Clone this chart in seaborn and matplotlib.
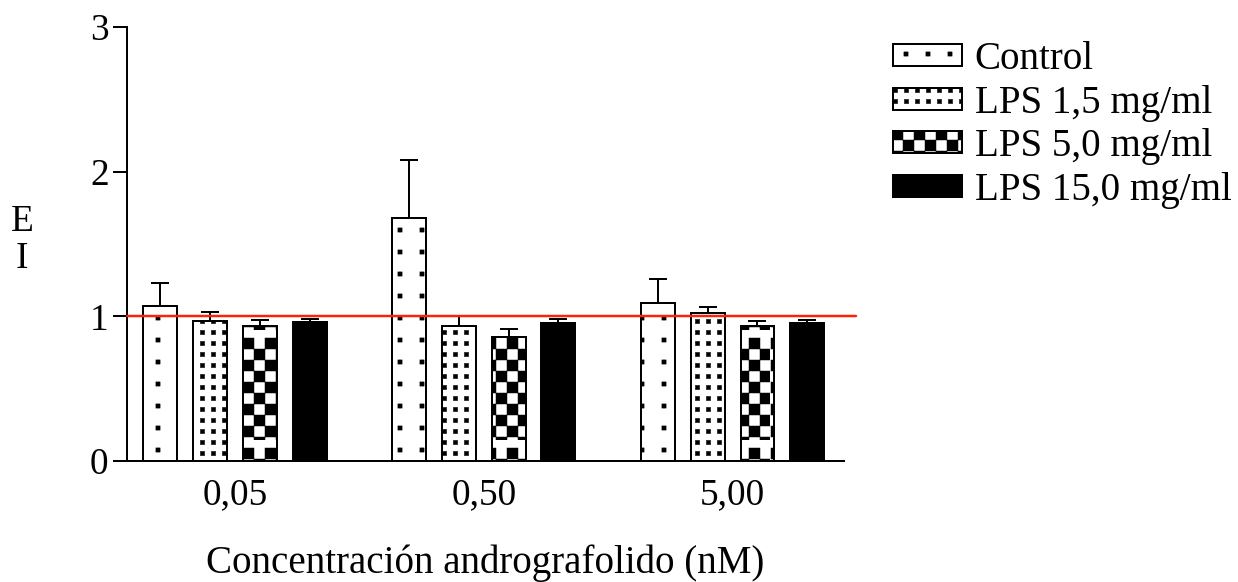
import matplotlib
matplotlib.use('Agg')
import matplotlib.pyplot as plt
import matplotlib.hatch as mhatch
from matplotlib.path import Path
import pandas as pd
import seaborn as sns

# values
concentrations = ['0,05', '0,50', '5,00']
groups = ['Control', 'LPS 1,5 mg/ml', 'LPS 5,0 mg/ml', 'LPS 15,0 mg/ml']
control = [1.07, 1.68, 1.09]
lps_1_5 = [0.97, 0.935, 1.02]
lps_5_0 = [0.935, 0.855, 0.935]
lps_15_0 = [0.958, 0.952, 0.956]
control_err = [0.16, 0.40, 0.165]
lps_1_5_err = [0.058, 0.07, 0.046]
lps_5_0_err = [0.042, 0.057, 0.033]
lps_15_0_err = [0.023, 0.03, 0.02]
reference = 1.0

DPI = 110
W, H = 1238, 582

# square-dot and checkerboard fills, sizes in pixels (one hatch tile = DPI px)
HATCH_SPECS = {
    '.': (22, 4.2, 4.0, 10.0, False),
    'o': (11, 4.2, 4.5, 2.5, False),
    'x': (11, 11.0, 6.5, 13.5, True),
}


class BlockHatch(mhatch.HatchPatternBase):
    def __init__(self, hatch, density):
        self.squares = []
        for ch, (period, size, cx, cy, checker) in HATCH_SPECS.items():
            if ch not in hatch:
                continue
            n = DPI // period
            s = size / DPI
            for i in range(n):
                for j in range(n):
                    if checker and (i + j) % 2:
                        continue
                    x = (cx + i * period) / DPI
                    y = 1 - (cy + j * period) / DPI
                    self.squares.append((x - s / 2, y - s / 2, s))
        self.num_vertices = 5 * len(self.squares)

    def set_vertices_and_codes(self, vertices, codes):
        for k, (x, y, s) in enumerate(self.squares):
            vertices[5 * k:5 * k + 5] = [(x, y), (x + s, y), (x + s, y + s), (x, y + s), (x, y)]
            codes[5 * k:5 * k + 5] = [Path.MOVETO, Path.LINETO, Path.LINETO,
                                      Path.LINETO, Path.CLOSEPOLY]


mhatch._hatch_types = [BlockHatch]

df = pd.DataFrame({
    'conc': concentrations * 4,
    'grupo': [g for g in groups for _ in concentrations],
    'ei': control + lps_1_5 + lps_5_0 + lps_15_0,
})
errors = [control_err, lps_1_5_err, lps_5_0_err, lps_15_0_err]
hatches = ['.', 'o', 'x', '']

sns.set_theme(style='ticks', rc={'text.color': 'black', 'axes.labelcolor': 'black',
                                 'xtick.color': 'black', 'ytick.color': 'black',
                                 'axes.edgecolor': 'black'})
plt.rcParams['font.family'] = ['Liberation Serif', 'DejaVu Serif']
plt.rcParams['hatch.linewidth'] = 0.3
plt.rcParams['hatch.color'] = 'black'

fig = plt.figure(figsize=(W / DPI + 0.0001, H / DPI + 0.0001), dpi=DPI)
ax = fig.add_axes([127 / W, 1 - 461 / H, 717 / W, 434 / H])

sns.barplot(df, x='conc', y='ei', hue='grupo', hue_order=groups,
            palette=['white', 'white', 'white', 'black'], saturation=1,
            edgecolor='black', linewidth=1.3, width=0.8, gap=0.32,
            errorbar=None, legend=False, ax=ax)

bars = list(ax.containers)
for cont, hatch, err in zip(bars, hatches, errors):
    for p in cont.patches:
        p.set_hatch(hatch)
    xs = [p.get_x() + p.get_width() / 2 for p in cont.patches]
    ax.errorbar(xs, cont.datavalues, yerr=[[0] * len(err), err], fmt='none',
                ecolor='black', elinewidth=1.3, capsize=5.9, capthick=1.3, zorder=3)

ax.axhline(reference, xmin=0, xmax=1.017, color='#ff2200', lw=1.6, zorder=5, clip_on=False)

ax.set_ylim(0, 3)
ax.set_yticks([0, 1, 2, 3])
ax.set_xlim(-0.434, 2.448)
sns.despine(ax=ax)
for side in ['left', 'bottom']:
    ax.spines[side].set_linewidth(1.3)
ax.tick_params(axis='y', length=9, width=1.3, pad=3, labelsize=24.5)
ax.tick_params(axis='x', length=0, pad=11, labelsize=24.5)

ax.set_xlabel('Concentración andrografolido (nM)', fontsize=25.5, labelpad=21)
ax.set_ylabel('E\nI', fontsize=24.5, rotation=0, ha='center', va='center', linespacing=1.1)
ax.yaxis.set_label_coords(-0.146, 0.509)

ax.legend(bars, groups, loc='upper left', bbox_to_anchor=(893 / W, 1 - 41 / H),
          bbox_transform=fig.transFigure, frameon=False, fontsize=25.5,
          handlelength=1.77, handleheight=0.49, handletextpad=0.33,
          labelspacing=0.17, borderpad=0, borderaxespad=0)

fig.savefig('out.png', dpi=DPI)
